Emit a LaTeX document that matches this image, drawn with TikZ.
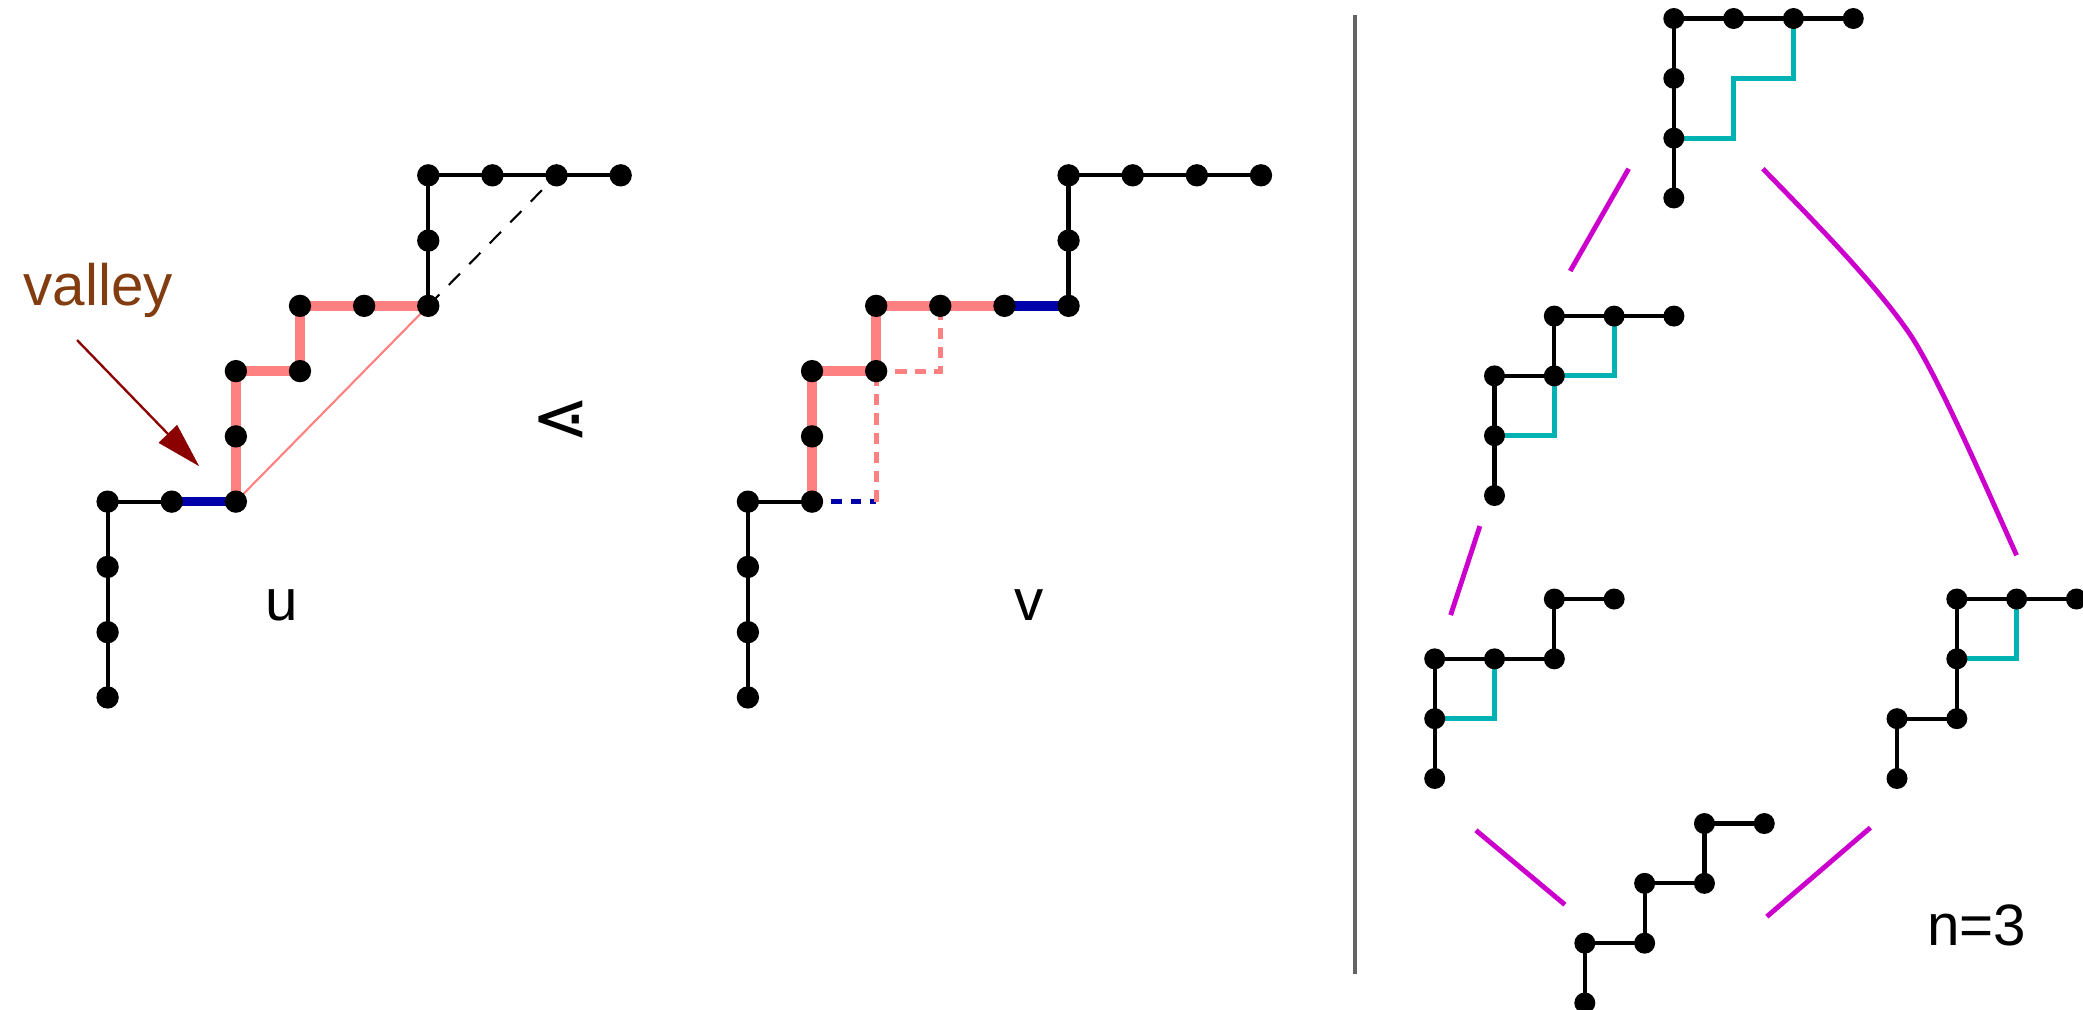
\documentclass[tikz,border=0pt]{standalone}
\usepackage{fontspec}
\setmainfont{Liberation Sans}
\newfontfamily\symfont{DejaVu Sans}
\usetikzlibrary{arrows.meta}
\definecolor{pinkc}{RGB}{255,128,128}
\definecolor{bluec}{RGB}{0,0,170}
\definecolor{tealc}{RGB}{0,178,178}
\definecolor{magc}{RGB}{204,0,204}
\definecolor{brownc}{RGB}{130,60,15}
\definecolor{arrowc}{RGB}{139,0,0}
\definecolor{sepc}{RGB}{100,100,100}
\pgfdeclarelayer{bg}
\pgfsetlayers{bg,main}
\begin{document}
\begin{tikzpicture}[x=0.01cm,y=-0.01cm,
  dotL/.style={circle,fill=black,inner sep=0pt,minimum size=0.168cm},
  dotR/.style={circle,fill=black,inner sep=0pt,minimum size=0.158cm},
  blk/.style={line width=0.9pt, black},
  pinkthick/.style={line width=2.05pt, pinkc},
  bluethick/.style={line width=2.05pt, bluec},
  pinkthin/.style={line width=0.45pt, pinkc},
  pinkdash/.style={line width=1.1pt, pinkc, dash pattern=on 0.085cm off 0.06cm},
  bluedash/.style={line width=1.05pt, bluec, dash pattern=on 0.08cm off 0.065cm},
  blkdash/.style={line width=0.45pt, black, dash pattern=on 0.12cm off 0.10cm},
  tealln/.style={line width=1.1pt, tealc},
  magln/.style={line width=1.05pt, magc},
  sepln/.style={line width=0.75pt, sepc},
  lbl/.style={font=\fontsize{12.5}{14}\selectfont, inner sep=0pt},
]
\useasboundingbox (0,0) rectangle (1568,760);

% ---------- left diagram u ----------
\begin{scope}[shift={(81,525)}, x=0.4825cm, y=0.491cm]
  \foreach \a/\b in {0/0,0/1,0/2,0/3,1/3,2/3,2/4,2/5,3/5,3/6,4/6,5/6,5/7,5/8,6/8,7/8,8/8}
    \node[dotL] (u\a\b) at (\a,\b) {};
  \begin{pgfonlayer}{bg}
    \draw[blk] (u00.center) -- (u03.center) -- (u13.center);
    \draw[bluethick] (u13.center) -- (u23.center);
    \draw[pinkthin] (u23.center) -- (u56.center);
    \draw[pinkthick] (u23.center) -- (u25.center) -- (u35.center) -- (u36.center) -- (u56.center);
    \draw[blkdash] (u56.center) -- (u78.center);
    \draw[blk] (u56.center) -- (u58.center) -- (u88.center);
  \end{pgfonlayer}
\end{scope}

% ---------- middle diagram v ----------
\begin{scope}[shift={(563,525)}, x=0.4825cm, y=0.491cm]
  \foreach \a/\b in {0/0,0/1,0/2,0/3,1/3,1/4,1/5,2/5,2/6,3/6,4/6,5/6,5/7,5/8,6/8,7/8,8/8}
    \node[dotL] (v\a\b) at (\a,\b) {};
  \coordinate (v23) at (2,3);
  \coordinate (v35) at (3,5);
  \begin{pgfonlayer}{bg}
    \draw[blk] (v00.center) -- (v03.center) -- (v13.center);
    \draw[bluedash] (v13.center) -- (v23);
    \draw[pinkdash] (v23) -- (v25.center);
    \draw[pinkdash] (v25.center) -- (v35) -- (v36.center);
    \draw[pinkthick] (v13.center) -- (v15.center) -- (v25.center) -- (v26.center) -- (v46.center);
    \draw[bluethick] (v46.center) -- (v56.center);
    \draw[blk] (v56.center) -- (v58.center) -- (v88.center);
  \end{pgfonlayer}
\end{scope}

% ---------- labels left ----------
\node[lbl, text=brownc, anchor=base west] (valley) at (17,230) {valley};
\coordinate (arrA) at (58,256);
\coordinate (arrB) at (150,351);
\draw[arrowc, line width=0.5pt, -{Triangle[length=3.4mm,width=1.9mm]}] (arrA) -- (arrB);
\node[lbl, anchor=base] (ulab) at (212,467) {u};
\node[lbl, anchor=base] (vlab) at (775,467) {v};
\node[font=\symfont\fontsize{15}{17}\selectfont, inner sep=0pt] (lessdot) at (422,317) {⋖};

% ---------- separator ----------
\coordinate (sepA) at (1020,11);
\coordinate (sepB) at (1020,733);
\draw[sepln] (sepA) -- (sepB);

% ---------- right: top ----------
\begin{scope}[shift={(1260,149)}, x=0.45cm, y=0.45cm]
  \foreach \a/\b in {0/0,0/1,0/2,0/3,1/3,2/3,3/3}
    \node[dotR] (t\a\b) at (\a,\b) {};
  \begin{pgfonlayer}{bg}
    \draw[tealln] (t01.center) -- ++(1,0) -- ++(0,1) -- ++(1,0) -- (t23.center);
    \draw[blk] (t00.center) -- (t03.center) -- (t33.center);
  \end{pgfonlayer}
\end{scope}

% ---------- right: middle left ----------
\begin{scope}[shift={(1125,373)}, x=0.45cm, y=0.45cm]
  \foreach \a/\b in {0/0,0/1,0/2,1/2,1/3,2/3,3/3}
    \node[dotR] (a\a\b) at (\a,\b) {};
  \begin{pgfonlayer}{bg}
    \draw[tealln] (a01.center) -- ++(1,0) -- (a12.center) -- ++(1,0) -- (a23.center);
    \draw[blk] (a00.center) -- (a02.center) -- (a12.center) -- (a13.center) -- (a33.center);
  \end{pgfonlayer}
\end{scope}

% ---------- right: lower left ----------
\begin{scope}[shift={(1080,586)}, x=0.45cm, y=0.45cm]
  \foreach \a/\b in {0/0,0/1,0/2,1/2,2/2,2/3,3/3}
    \node[dotR] (b\a\b) at (\a,\b) {};
  \begin{pgfonlayer}{bg}
    \draw[tealln] (b01.center) -- ++(1,0) -- (b12.center);
    \draw[blk] (b00.center) -- (b02.center) -- (b22.center) -- (b23.center) -- (b33.center);
  \end{pgfonlayer}
\end{scope}

% ---------- right: lower right ----------
\begin{scope}[shift={(1428,586)}, x=0.45cm, y=0.45cm]
  \foreach \a/\b in {0/0,0/1,1/1,1/2,1/3,2/3,3/3}
    \node[dotR] (c\a\b) at (\a,\b) {};
  \begin{pgfonlayer}{bg}
    \draw[tealln] (c12.center) -- ++(1,0) -- (c23.center);
    \draw[blk] (c00.center) -- (c01.center) -- (c11.center) -- (c13.center) -- (c33.center);
  \end{pgfonlayer}
\end{scope}

% ---------- right: bottom ----------
\begin{scope}[shift={(1193,755)}, x=0.45cm, y=0.45cm]
  \foreach \a/\b in {0/0,0/1,1/1,1/2,2/2,2/3,3/3}
    \node[dotR] (d\a\b) at (\a,\b) {};
  \begin{pgfonlayer}{bg}
    \draw[blk] (d00.center) -- (d01.center) -- (d11.center) -- (d12.center) -- (d22.center) -- (d23.center) -- (d33.center);
  \end{pgfonlayer}
\end{scope}

% ---------- magenta links ----------
\coordinate (m1a) at (1226,127); \coordinate (m1b) at (1182,204);
\coordinate (m2a) at (1327,127); \coordinate (m2b) at (1518,418);
\coordinate (m3a) at (1114,396); \coordinate (m3b) at (1092,463);
\coordinate (m4a) at (1111,625); \coordinate (m4b) at (1178,681);
\coordinate (m5a) at (1408,623); \coordinate (m5b) at (1330,690);
\draw[magln] (m1a) -- (m1b);
\draw[magln] (m2a) .. controls (1367,168) and (1413,215) .. (1438,252)
                   .. controls (1458,282) and (1493,362) .. (m2b);
\draw[magln] (m3a) -- (m3b);
\draw[magln] (m4a) -- (m4b);
\draw[magln] (m5a) -- (m5b);

\node[lbl, anchor=base west] (nlab) at (1450,712) {n=3};
\end{tikzpicture}
\end{document}
